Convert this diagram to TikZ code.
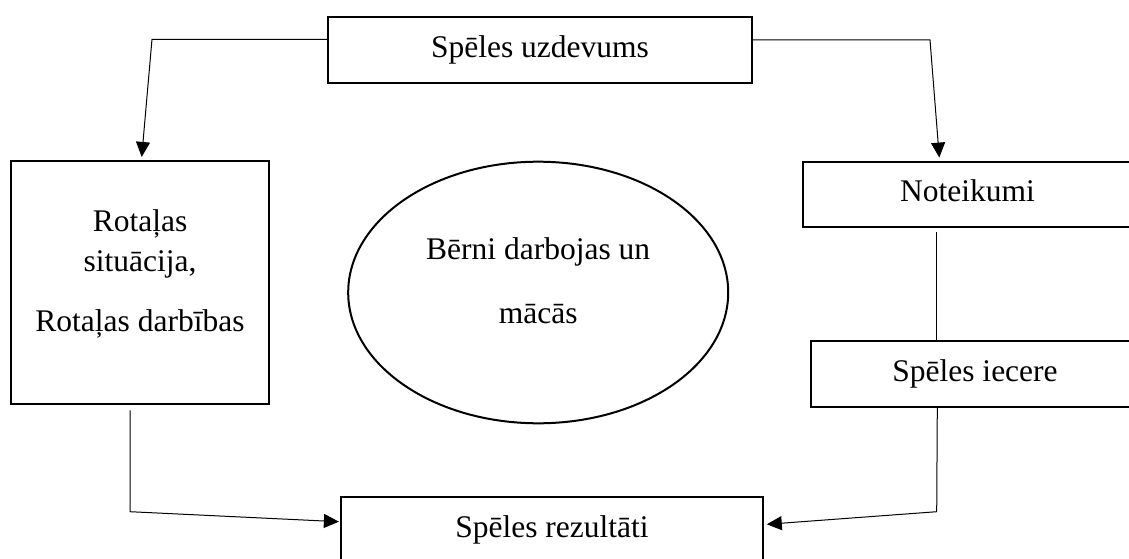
\documentclass[tikz,border=0pt]{standalone}
\usepackage{fontspec}
\setmainfont{Liberation Serif}
\usetikzlibrary{shapes.geometric,arrows.meta}

\tikzset{
  rami/.style={draw, line width=2.2pt, inner sep=0pt, font=\fontsize{31.5}{39.3}\selectfont},
  rinda/.style={rami, text height=21.5pt, text depth=6.8pt},
  bulta/.style={line width=1pt, -{Triangle[length=15pt,width=14pt]}},
  linija/.style={line width=1pt}
}

\begin{document}
\begin{tikzpicture}[x=1pt,y=1pt] %Shēmas sākums
	\useasboundingbox (0,0) rectangle (1129,558);
	\clip (0,0) rectangle (1129,558);
		%Bloki
	\node[rinda, minimum width=423.4pt, minimum height=66pt] (uzd) at (540,508.3) {Spēles uzdevums}; %Augšā
	\node[rami, align=center, minimum width=258.6pt, minimum height=243.3pt] (rot) at (140,275.3) {Rotaļas\\situācija,\\[21.4pt]Rotaļas darbības\rule[-23.5pt]{0pt}{23.5pt}}; %Pa kreisi
	\node[rami, ellipse, line width=2pt, align=center, minimum width=380pt, minimum height=261.6pt] (berni) at (538.2,265.5) {Bērni darbojas un\\[24.7pt]mācās\rule[-23.9pt]{0pt}{23.9pt}}; %Vidū
	\node[rinda, minimum width=329.6pt, minimum height=65.6pt] (not) at (967.5,363.5) {Noteikumi}; %Pa labi augšā
	\node[rinda, minimum width=328pt, minimum height=65.7pt] (iec) at (975,184.15) {Spēles iecere}; %Pa labi lejā
	\node[rinda, minimum width=422.6pt, minimum height=66pt] (rez) at (552,27.7) {Spēles rezultāti}; %Apakšā
		%Lūzuma punkti
	\coordinate (kreisais) at (152,518.7);
	\coordinate (labais) at (930,518);
	\coordinate (lejaL) at (130,46.3);
	\coordinate (lejaR) at (936.7,46.3);
		%Savienojumi
	\draw[bulta] ([yshift=10.4pt]uzd.west) -- (kreisais) -- ([xshift=1.7pt,yshift=3pt]rot.north); %Uz rotaļas bloku
	\draw[bulta] ([yshift=9.7pt]uzd.east) -- (labais) -- ([xshift=-28.2pt,yshift=3pt]not.north); %Uz noteikumiem
	\draw[linija] ([xshift=-31.5pt,yshift=-4pt]not.south) -- ([xshift=-39pt]iec.north); %Noteikumi -- iecere
	\draw[bulta] ([xshift=-10pt,yshift=-5pt]rot.south) -- (lejaL) -- ([xshift=-0.7pt,yshift=8.6pt]rez.west); %No kreisās uz rezultātiem
	\draw[bulta] ([xshift=-37.7pt]iec.south) -- (lejaR) -- ([xshift=2.4pt,yshift=6pt]rez.east); %No labās uz rezultātiem
\end{tikzpicture}
\end{document}
